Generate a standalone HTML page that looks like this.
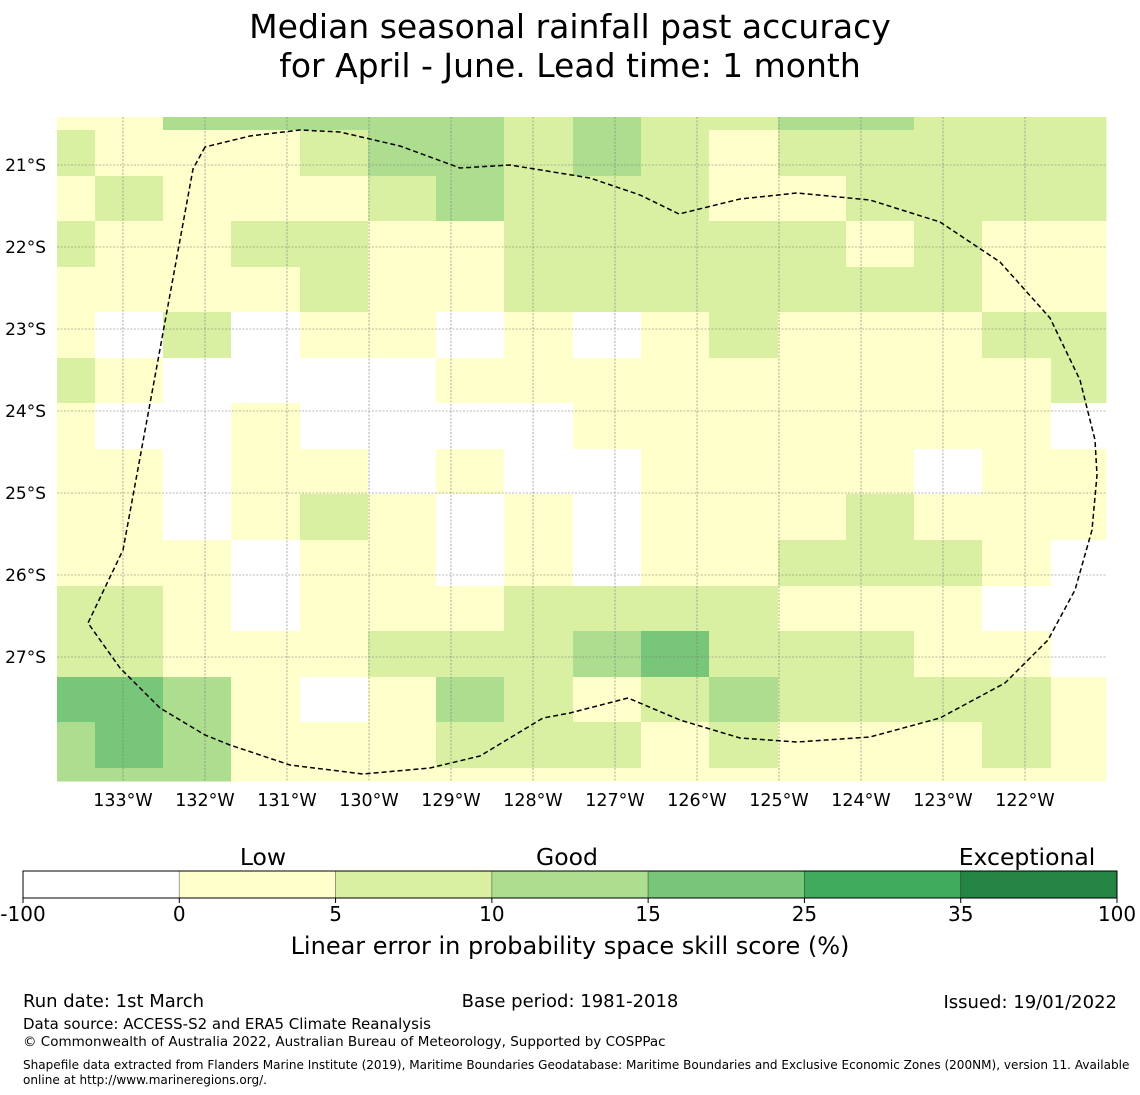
<!DOCTYPE html>
<html><head><meta charset="utf-8">
<style>
html,body{margin:0;padding:0;background:#fff;}
svg{display:block;font-family:"DejaVu Sans","Liberation Sans",sans-serif;}
</style></head>
<body>
<svg id="chart" width="1140" height="1095" viewBox="0 0 1140 1095" xmlns="http://www.w3.org/2000/svg">
<text x="570" y="38" font-size="33" text-anchor="middle">Median seasonal rainfall past accuracy</text>
<text x="570" y="77" font-size="33" text-anchor="middle">for April - June. Lead time: 1 month</text>
<g id="cells"></g>
<g id="grid"></g>
<g id="ticks"></g>
<path id="eez" fill="none" stroke="#000" stroke-width="1.5" stroke-dasharray="5,3" stroke-linejoin="round"></path>
<g id="cbar"></g>
<text x="570" y="954" font-size="24" text-anchor="middle">Linear error in probability space skill score (%)</text>
<text x="23" y="1007" font-size="18">Run date: 1st March</text>
<text x="570" y="1007" font-size="18" text-anchor="middle">Base period: 1981-2018</text>
<text x="1117" y="1008" font-size="18" text-anchor="end">Issued: 19/01/2022</text>
<text x="23" y="1029" font-size="15">Data source: ACCESS-S2 and ERA5 Climate Reanalysis</text>
<text x="23" y="1046" font-size="13.5">© Commonwealth of Australia 2022, Australian Bureau of Meteorology, Supported by COSPPac</text>
<text x="23" y="1069" font-size="12.05">Shapefile data extracted from Flanders Marine Institute (2019), Maritime Boundaries Geodatabase: Maritime Boundaries and Exclusive Economic Zones (200NM), version 11. Available</text>
<text x="23" y="1084" font-size="12.05">online at http://www.marineregions.org/.</text>
</svg>
<script>
// category index per cell: 0 <0, 1 0-5, 2 5-10, 3 10-15, 4 15-25, 5 25-35, 6 35-100
const skillGrid = [
[1,1,3,3,3,3,3,2,3,2,2,3,3,2,2,2],
[2,1,1,1,2,3,3,2,3,2,1,2,2,2,2,2],
[1,2,1,1,1,2,3,2,2,2,1,1,2,2,2,2],
[2,1,1,2,2,1,1,2,2,2,2,2,1,2,1,1],
[1,1,1,1,2,1,1,2,2,2,2,2,2,2,1,1],
[1,0,2,0,1,1,0,1,0,1,2,1,1,1,2,2],
[2,1,0,0,0,0,1,1,1,1,1,1,1,1,1,2],
[1,0,0,1,0,0,0,0,1,1,1,1,1,1,1,0],
[1,1,0,1,1,0,1,0,0,1,1,1,1,0,1,1],
[1,1,0,1,2,1,0,1,0,1,1,1,2,1,1,1],
[1,1,1,0,1,1,0,1,0,1,1,2,2,2,1,0],
[2,2,1,0,1,1,1,2,2,2,2,1,1,1,0,0],
[2,2,1,1,1,2,2,2,3,4,2,2,2,1,1,0],
[4,4,3,1,0,1,3,2,1,2,3,2,2,2,2,1],
[3,4,3,1,1,1,2,2,2,1,2,1,1,1,2,1],
[3,3,3,1,1,1,1,1,1,1,1,1,1,1,1,1]
];
const lonTicks = [133,132,131,130,129,128,127,126,125,124,123,122];
const latTicks = [21,22,23,24,25,26,27];
const cbarBounds = ["-100","0","5","10","15","25","35","100"];
const cbarColors = ["#ffffff","#ffffcc","#d9f0a3","#addd8e","#78c679","#41ab5d","#238443"];
const cbarCategories = ["Low","Good","Exceptional"];
const eezX = [205,193,158,123,88,120,160,205,230,290,363,430,480,543,570,628,680,740,797,870,940,1005,1048,1075,1092,1097,1095,1080,1050,1000,940,870,797,740,679,640,590,510,460,400,340,300,250,205];
const eezY = [147,169,360,550,623,668,708,735,745,765,774,768,756,718,713,698,720,738,742,737,718,683,640,590,530,475,440,380,318,262,222,200,193,199,214,195,178,165,168,146,132,130,136,147];
const NS="http://www.w3.org/2000/svg";
const x0=57,x1=1106,y0=117,y1=781;
const colX=[57,95,163,231,300,368,436,504,573,641,709,778,846,914,982,1051,1106];
const rowY=[117,130,176,221,267,312,358,403,449,494,540,586,631,677,722,768,781];
function lonX(l){return 123+(133-l)*82;}
function latY(l){return 165+(l-21)*82;}
function mk(tag,attrs,parent){const e=document.createElementNS(NS,tag);for(const k in attrs)e.setAttribute(k,attrs[k]);parent.appendChild(e);return e;}
const cells=document.getElementById('cells');
skillGrid.forEach((row,r)=>row.forEach((v,c)=>{
  const e=mk('rect',{x:colX[c],y:rowY[r],width:colX[c+1]-colX[c]+0.5,height:rowY[r+1]-rowY[r]+0.5,fill:cbarColors[v]},cells);
  
  
}));
const grid=document.getElementById('grid'),ticks=document.getElementById('ticks');
lonTicks.forEach(l=>{
  const x=lonX(l);
  const g=mk('line',{x1:x,x2:x,y1:y0,y2:y1,stroke:'#777','stroke-width':0.6,'stroke-dasharray':'2,1.5'},grid);
  
  
  const t=mk('text',{x:x,y:806,'font-size':17.5,'text-anchor':'middle'},ticks);
  t.textContent=l+'°W';
  
  
});
latTicks.forEach(l=>{
  const y=latY(l);
  const g=mk('line',{x1:x0,x2:x1,y1:y,y2:y,stroke:'#777','stroke-width':0.6,'stroke-dasharray':'2,1.5'},grid);
  
  
  const t=mk('text',{x:46,y:y+6,'font-size':17,'text-anchor':'end'},ticks);
  t.textContent=l+'°S';
  
  
});
document.getElementById('eez').setAttribute('d',eezX.map((x,i)=>(i?'L':'M')+x+','+eezY[i]).join(' '));
const cb=document.getElementById('cbar');
const cbx0=23,cbx1=1117,cby=871,cbh=27,n=cbarColors.length,w=(cbx1-cbx0)/n;
cbarColors.forEach((col,i)=>{
  const e=mk('rect',{x:cbx0+i*w,y:cby,width:w,height:cbh,fill:col,stroke:'rgba(0,0,0,0.35)','stroke-width':0.8},cb);
  
  
});
mk('rect',{x:cbx0,y:cby,width:cbx1-cbx0,height:cbh,fill:'none',stroke:'#000','stroke-width':1},cb);
cbarBounds.forEach((b,i)=>{
  const x=cbx0+i*w;
  mk('line',{x1:x,x2:x,y1:cby+cbh,y2:cby+cbh+5,stroke:'#000'},cb);
  const t=mk('text',{x:x,y:921,'font-size':20,'text-anchor':'middle'},cb);
  t.textContent=b;
  
  
});
const catX=[263,567,1027];
cbarCategories.forEach((c,i)=>{
  const t=mk('text',{x:catX[i],y:865,'font-size':23.5,'text-anchor':'middle'},cb);
  t.textContent=c;
  
  
});
</script>
</body></html>
